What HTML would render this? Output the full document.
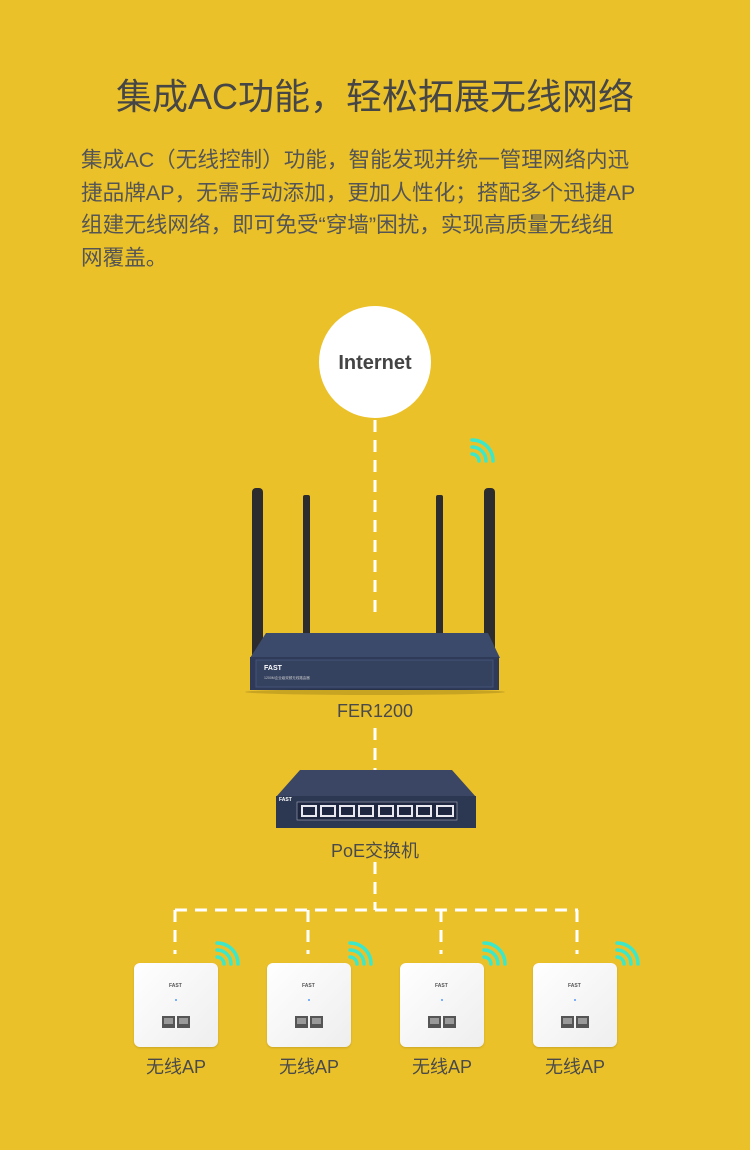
<!DOCTYPE html>
<html><head><meta charset="utf-8"><style>
body{margin:0;width:750px;height:1150px;background:#EBC12A;position:relative;overflow:hidden;font-family:"Liberation Sans","Noto Sans CJK SC",sans-serif;color:#4d4d4d}
.a{position:absolute}
.t{left:0;width:750px;text-align:center;top:72px;font-size:36px;line-height:50px;color:#464646}
.p{left:81px;top:144px;font-size:21.6px;line-height:32.5px;white-space:nowrap;color:#555}
.lbl{font-size:18px;width:140px;text-align:center;color:#4a4a4a}
.ap{width:84px;height:84px;border-radius:6px;background:linear-gradient(135deg,#fff,#eee);box-shadow:0 1px 2px rgba(0,0,0,.15)}
</style></head><body>
<div class="a t">集成AC功能，轻松拓展无线网络</div>
<div class="a p">集成AC（无线控制）功能，智能发现并统一管理网络内迅<br>捷品牌AP，无需手动添加，更加人性化；搭配多个迅捷AP<br>组建无线网络，即可免受“穿墙”困扰，实现高质量无线组<br>网覆盖。</div>

<div class="a" style="left:319px;top:306px;width:112px;height:112px;border-radius:50%;background:#fff;text-align:center;line-height:114px;font-weight:bold;font-size:20px;color:#444">Internet</div>

<svg class="a" style="left:0;top:0" width="750" height="1150">
<g stroke="#fff" stroke-width="3" stroke-dasharray="12 8" fill="none">
<line x1="375" y1="420" x2="375" y2="614"/>
<line x1="375" y1="728" x2="375" y2="770"/>
<line x1="375" y1="862" x2="375" y2="910"/>
<line x1="175" y1="910" x2="578" y2="910"/>
<line x1="175" y1="910" x2="175" y2="954"/>
<line x1="308" y1="910" x2="308" y2="954"/>
<line x1="441" y1="910" x2="441" y2="954"/>
<line x1="577" y1="910" x2="577" y2="954"/>
</g>
<defs><g id="w" fill="none" stroke="#3de8c8" stroke-width="3.5" stroke-linecap="round">
<path d="M2 10 A14 14 0 0 1 16 24"/><path d="M2 3 A21 21 0 0 1 23 24"/><path d="M2 17 A7 7 0 0 1 9 24"/></g></defs>
<use href="#w" x="470" y="437"/>
<use href="#w" x="215" y="940"/><use href="#w" x="348" y="940"/><use href="#w" x="482" y="940"/><use href="#w" x="615" y="940"/>
<rect x="252" y="488" width="11" height="170" rx="4" fill="#2c2c2e"/>
<rect x="303" y="495" width="7" height="145" rx="2" fill="#2c2c2e"/>
<rect x="436" y="495" width="7" height="145" rx="2" fill="#2c2c2e"/>
<rect x="484" y="488" width="11" height="170" rx="4" fill="#2c2c2e"/>
<polygon points="266,633 488,633 500,658 250,658" fill="#3b4a6a"/>
<rect x="250" y="657" width="249" height="33" fill="#2e3a57"/>
<rect x="256" y="660" width="237" height="27" fill="#34415f" stroke="#45527a"/>
<text x="264" y="670" font-size="7" fill="#fff" font-weight="bold">FAST</text>
<text x="264" y="679" font-size="3.5" fill="#ccc">1200M企业级双频无线路由器</text>
<ellipse cx="375" cy="692" rx="130" ry="3" fill="rgba(0,0,0,.15)"/>
<polygon points="300,770 452,770 476,797 276,797" fill="#3a4663"/>
<rect x="276" y="796" width="200" height="32" fill="#2c3752"/>
<rect x="297" y="802" width="160" height="18" fill="#1f2740" stroke="#aab" stroke-width=".6"/>
<g>
<rect x="301" y="805" width="16" height="12" fill="#e8e8ee"/><rect x="320" y="805" width="16" height="12" fill="#e8e8ee"/><rect x="339" y="805" width="16" height="12" fill="#e8e8ee"/><rect x="358" y="805" width="16" height="12" fill="#e8e8ee"/><rect x="378" y="805" width="16" height="12" fill="#e8e8ee"/><rect x="397" y="805" width="16" height="12" fill="#e8e8ee"/><rect x="416" y="805" width="16" height="12" fill="#e8e8ee"/><rect x="436" y="805" width="18" height="12" fill="#e8e8ee"/>
</g>
<g fill="#1f2740"><rect x="303" y="807" width="12" height="8"/><rect x="322" y="807" width="12" height="8"/><rect x="341" y="807" width="12" height="8"/><rect x="360" y="807" width="12" height="8"/><rect x="380" y="807" width="12" height="8"/><rect x="399" y="807" width="12" height="8"/><rect x="418" y="807" width="12" height="8"/><rect x="438" y="807" width="14" height="8"/></g>
<text x="279" y="801" font-size="5" fill="#fff" font-weight="bold">FAST</text>
</svg>

<div class="a lbl" style="left:305px;top:701px">FER1200</div>
<div class="a lbl" style="left:305px;top:837px">PoE交换机</div>

<div class="a ap" style="left:134px;top:963px"></div>
<div class="a ap" style="left:267px;top:963px"></div>
<div class="a ap" style="left:400px;top:963px"></div>
<div class="a ap" style="left:533px;top:963px"></div>
<svg class="a" style="left:0;top:0" width="750" height="1150">
<defs><g id="p"><text x="35" y="24" font-size="5" fill="#555" font-weight="bold">FAST</text><circle cx="42" cy="37" r="1" fill="#59f"/><rect x="28" y="53" width="13" height="12" fill="#555"/><rect x="43" y="53" width="13" height="12" fill="#555"/><rect x="30" y="55" width="9" height="6" fill="#999"/><rect x="45" y="55" width="9" height="6" fill="#999"/></g></defs>
<use href="#p" x="134" y="963"/><use href="#p" x="267" y="963"/><use href="#p" x="400" y="963"/><use href="#p" x="533" y="963"/>
</svg>
<div class="a lbl" style="left:106px;top:1053px">无线AP</div>
<div class="a lbl" style="left:239px;top:1053px">无线AP</div>
<div class="a lbl" style="left:372px;top:1053px">无线AP</div>
<div class="a lbl" style="left:505px;top:1053px">无线AP</div>
</body></html>
